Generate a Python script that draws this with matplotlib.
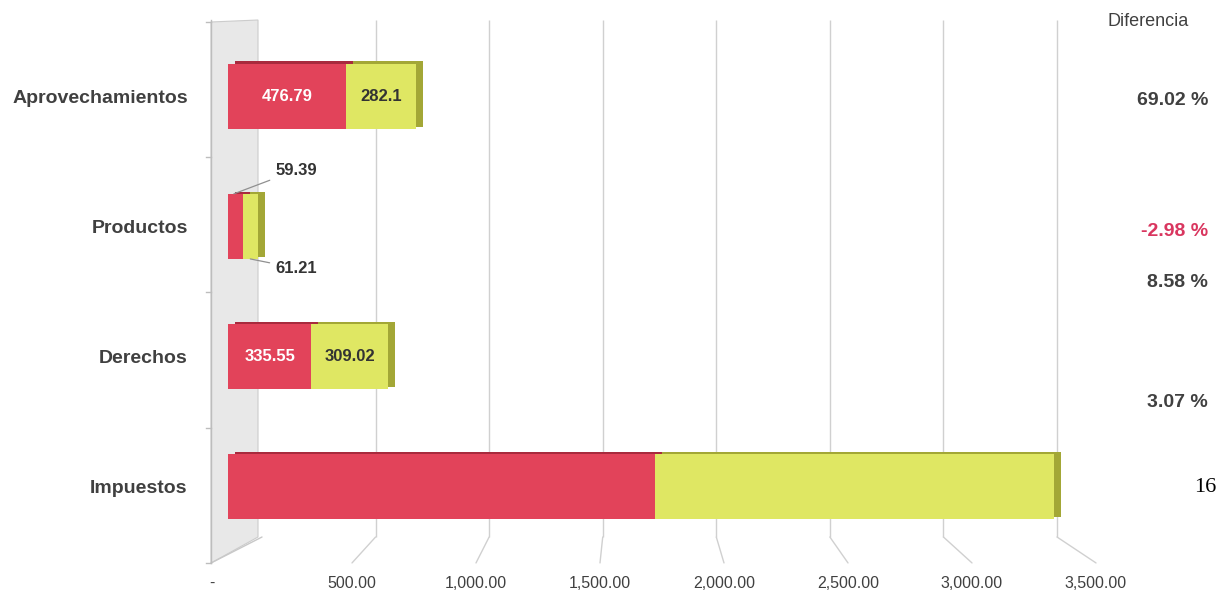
import matplotlib
matplotlib.use("Agg")
import matplotlib.pyplot as plt
import matplotlib.patheffects as pe
import matplotlib.transforms as mtrans
from matplotlib.patches import ConnectionPatch, Polygon
from matplotlib.lines import Line2D

# ── Data ──────────────────────────────────────────────────────────────────────
categories = ["Impuestos", "Derechos", "Productos", "Aprovechamientos"]
actual     = [1720.0, 335.55, 59.39, 476.79]    # red series
anterior   = [1610.0, 309.02, 61.21, 282.1]     # yellow series
diff_text  = ["69.02 %", "-2.98 %", "8.58 %", "3.07 %"]
diff_y     = [2.97, 1.96, 1.57, 0.65]           # where the labels sit (data y)
diff_col   = ["#404040", "#d9365f", "#404040", "#404040"]
xticks     = [0, 500, 1000, 1500, 2000, 2500, 3000, 3500]
xlabels    = ["-", "500.00", "1,000.00", "1,500.00", "2,000.00",
              "2,500.00", "3,000.00", "3,500.00"]

RED, RED_DK = "#e2435a", "#a82a3d"
YEL, YEL_DK = "#dfe763", "#a3a736"
GREY = "#404040"

FONT = ["Liberation Sans", "DejaVu Sans"]

W, H = 1228, 596
def fx(px): return px / W
def fy(py): return 1 - py / H

fig = plt.figure(figsize=(W / 100, H / 100), dpi=100)

# ── Back wall + back plane gridlines ─────────────────────────────────────────
wall = Polygon([(fx(211), fy(22)), (fx(258), fy(20)), (fx(258), fy(537)),
                (fx(211), fy(563))], closed=True, transform=fig.transFigure,
               facecolor="#e8e8e8", edgecolor="#cccccc", linewidth=0.8, zorder=-2)
fig.patches.append(wall)
fig.lines.append(Line2D([fx(211), fx(211)], [fy(20), fy(563)], zorder=-1,
                        transform=fig.transFigure, color="#bdbdbd", lw=1))
for py in [22, 157, 292, 428, 563]:
    fig.lines.append(Line2D([fx(206), fx(211)], [fy(py), fy(py)], zorder=-1,
                            transform=fig.transFigure, color="#bdbdbd", lw=1))

ax_back = fig.add_axes([fx(262), fy(537), fx(1057) - fx(262), fy(20) - fy(537)])
ax_back.set_zorder(-1)
ax_back.set_xlim(0, 3500)
ax_back.set_ylim(0, 1)
ax_back.patch.set_visible(False)
for s in ax_back.spines.values():
    s.set_visible(False)
ax_back.set_yticks([])
ax_back.set_xticks([])
ax_back.vlines(xticks[1:], 0, 1, color="#d0d0d0", linewidth=1, clip_on=False)

# ── Front plane: the bars ────────────────────────────────────────────────────
ax = fig.add_axes([fx(228), fy(552), fx(1096) - fx(228), fy(31) - fy(552)])
ax.set_zorder(1)
ax.patch.set_visible(False)
ax.set_xlim(0, 3500)
ax.set_ylim(-0.5, 3.5)
for s in ax.spines.values():
    s.set_visible(False)

y = list(range(len(categories)))
shadow_r = [pe.SimplePatchShadow(offset=(5, 1.5), shadow_rgbFace=RED_DK, alpha=1), pe.Normal()]
shadow_y = [pe.SimplePatchShadow(offset=(5, 1.5), shadow_rgbFace=YEL_DK, alpha=1), pe.Normal()]
bars_r = ax.barh(y, actual, height=0.5, color=RED, zorder=3)
bars_y = ax.barh(y, anterior, left=actual, height=0.5, color=YEL, zorder=3)
for b in bars_r:
    b.set_path_effects(shadow_r)
for b in bars_y:
    b.set_path_effects(shadow_y)

# value labels inside Aprovechamientos / Derechos
for i in (1, 3):
    ax.text(actual[i] / 2, y[i], f"{actual[i]:g}", ha="center", va="center",
            color="white", fontsize=12, fontweight="bold", family=FONT, zorder=5)
    ax.text(actual[i] + anterior[i] / 2, y[i], f"{anterior[i]:g}", ha="center",
            va="center", color="#333333", fontsize=12, fontweight="bold",
            family=FONT, zorder=5)

# Productos labels outside, with leader lines
ax.annotate(f"{actual[2]:g}", xy=(actual[2] * 0.4, y[2] + 0.25),
            xytext=(190, y[2] + 0.43), ha="left", va="center",
            color="#333333", fontsize=12, fontweight="bold", family=FONT,
            arrowprops=dict(arrowstyle="-", color="#909090", lw=0.9,
                            shrinkA=2, shrinkB=0), zorder=5)
ax.annotate(f"{anterior[2]:g}", xy=(actual[2] + anterior[2] * 0.5, y[2] - 0.25),
            xytext=(190, y[2] - 0.32), ha="left", va="center",
            color="#333333", fontsize=12, fontweight="bold", family=FONT,
            arrowprops=dict(arrowstyle="-", color="#909090", lw=0.9,
                            shrinkA=2, shrinkB=0), zorder=5)

# axis labels
ax.set_yticks(y)
ax.set_yticklabels(categories, fontsize=14, fontweight="bold", color=GREY,
                   family=FONT)
ax.set_xticks(xticks)
ax.set_xticklabels(xlabels, fontsize=11.5, color=GREY, family=FONT)
ax.tick_params(axis="y", length=0, pad=29)
ax.tick_params(axis="x", length=0, pad=17)
# the "-" zero label sits under the wall, a bit to the left
zero_lbl = ax.get_xticklabels()[0]
zero_lbl.set_transform(zero_lbl.get_transform() +
                       mtrans.ScaledTranslation(-16 / 100, 0, fig.dpi_scale_trans))

# floor connectors from back gridlines to the front axis
for v in xticks[1:]:
    cp = ConnectionPatch(xyA=(v, 0), coordsA=ax_back.get_xaxis_transform(),
                         xyB=(v, -0.021), coordsB=ax.get_xaxis_transform(),
                         color="#d0d0d0", lw=1, zorder=-1)
    fig.add_artist(cp)
fig.add_artist(ConnectionPatch(xyA=(0, 0), coordsA=ax_back.get_xaxis_transform(),
                               xyB=(fx(211), fy(563)), coordsB=fig.transFigure,
                               color="#c8c8c8", lw=1, zorder=-1))

# ── Right column: Diferencia ─────────────────────────────────────────────────
tr = mtrans.blended_transform_factory(fig.transFigure, ax.transData)
fig.text(fx(1148), fy(22), "Diferencia", ha="center", va="center",
         fontsize=13, color=GREY, family=FONT)
for txt, yy, c in zip(diff_text, diff_y, diff_col):
    ax.text(fx(1208), yy, txt, transform=tr, ha="right", va="center",
            fontsize=14, fontweight="bold", color=c, family=FONT, clip_on=False)

fig.text(fx(1205), fy(487), "16", ha="center", va="center", fontsize=16,
         family="Liberation Serif", color="black")

fig.savefig("out.png", dpi=100)
